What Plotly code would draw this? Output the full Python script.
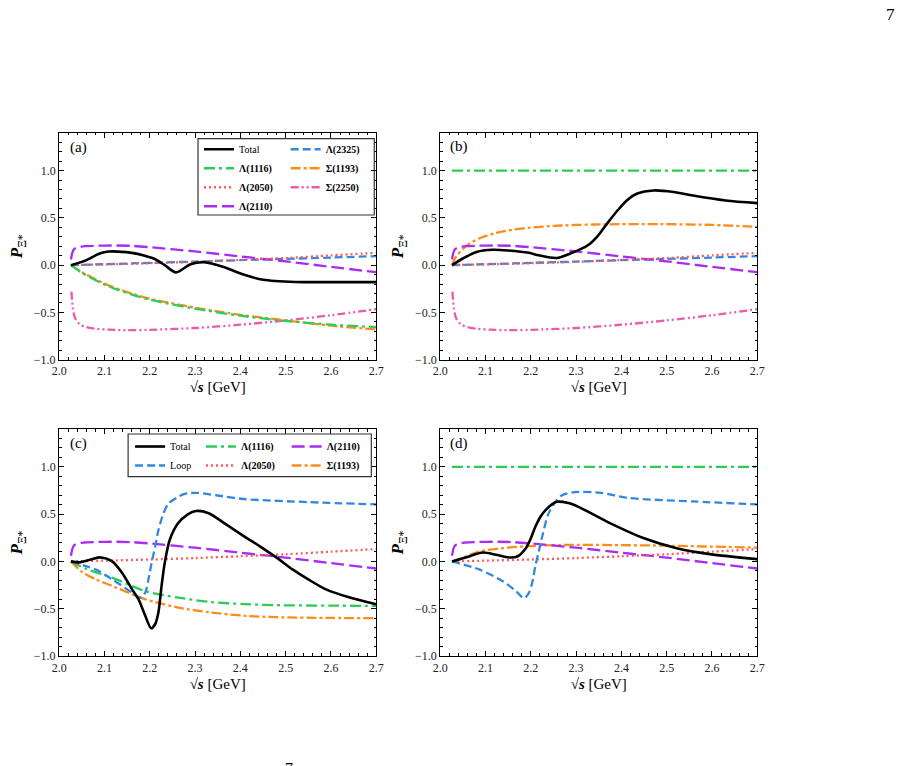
import plotly.graph_objects as go

# ---------------- data ----------------
# shared curves (same in all panels)
x_l2050 = [2.026, 2.1, 2.2, 2.3, 2.4, 2.5, 2.6, 2.7]
y_l2050 = [0.0, 0.008, 0.02, 0.035, 0.055, 0.075, 0.103, 0.13]

x_l2325 = [2.026, 2.1, 2.2, 2.3, 2.4, 2.5, 2.6, 2.7]
y_l2325 = [0.0, 0.01, 0.024, 0.038, 0.053, 0.066, 0.08, 0.095]

x_l2110 = [2.026, 2.029, 2.033, 2.04, 2.055, 2.08, 2.12, 2.16, 2.2, 2.3, 2.4, 2.45, 2.5, 2.6, 2.7]
y_l2110 = [0.06, 0.13, 0.17, 0.19, 0.2, 0.205, 0.208, 0.204, 0.19, 0.145, 0.092, 0.066, 0.04, -0.018, -0.075]

x_s2250 = [2.027, 2.03, 2.035, 2.045, 2.06, 2.08, 2.11, 2.15, 2.2, 2.3, 2.4, 2.5, 2.6, 2.7]
y_s2250 = [-0.28, -0.45, -0.56, -0.625, -0.655, -0.672, -0.683, -0.688, -0.684, -0.665, -0.63, -0.585, -0.53, -0.465]

# panel (a)
x_a_total = [2.026, 2.059, 2.088, 2.109, 2.16, 2.189, 2.211, 2.233, 2.258, 2.29, 2.32, 2.363, 2.407, 2.45, 2.522, 2.6, 2.7]
y_a_total = [0.0, 0.05, 0.12, 0.144, 0.13, 0.1, 0.065, 0.0, -0.077, 0.01, 0.03, -0.02, -0.1, -0.155, -0.178, -0.18, -0.18]
x_a_l1116 = [2.026, 2.05, 2.1, 2.15, 2.2, 2.3, 2.4, 2.5, 2.6, 2.7]
y_a_l1116 = [0.0, -0.08, -0.205, -0.295, -0.365, -0.46, -0.535, -0.59, -0.63, -0.655]
x_a_s1193 = [2.026, 2.05, 2.1, 2.15, 2.2, 2.3, 2.4, 2.5, 2.6, 2.7]
y_a_s1193 = [0.0, -0.075, -0.195, -0.285, -0.355, -0.45, -0.525, -0.585, -0.64, -0.68]

# panel (b)
x_b_total = [2.026, 2.05, 2.08, 2.116, 2.15, 2.196, 2.2175, 2.257, 2.29, 2.326, 2.348, 2.37, 2.39, 2.413, 2.435, 2.471, 2.515, 2.558, 2.63, 2.7]
y_b_total = [0.0, 0.07, 0.14, 0.163, 0.155, 0.13, 0.104, 0.076, 0.128, 0.21, 0.31, 0.45, 0.57, 0.69, 0.757, 0.79, 0.774, 0.736, 0.684, 0.656]
x_b_l1116 = [2.026, 2.7]
y_b_l1116 = [1.0, 1.0]
x_b_s1193 = [2.026, 2.035, 2.05, 2.065, 2.09, 2.123, 2.16, 2.196, 2.25, 2.34, 2.486, 2.6, 2.7]
y_b_s1193 = [0.0, 0.09, 0.17, 0.23, 0.29, 0.34, 0.375, 0.395, 0.415, 0.43, 0.434, 0.425, 0.405]

# panel (c)
x_c_total = [2.026, 2.045, 2.07, 2.092, 2.117, 2.139, 2.161, 2.175, 2.19, 2.203, 2.212, 2.219, 2.226, 2.233, 2.244, 2.262, 2.284, 2.302, 2.33, 2.371, 2.41, 2.444, 2.48, 2.516, 2.55, 2.589, 2.64, 2.7]
y_c_total = [0.0, -0.01, 0.02, 0.042, 0.0, -0.122, -0.296, -0.4, -0.575, -0.707, -0.662, -0.54, -0.261, -0.017, 0.226, 0.4, 0.498, 0.533, 0.51, 0.383, 0.26, 0.157, 0.04, -0.087, -0.19, -0.296, -0.38, -0.453]
x_c_loop = [2.026, 2.059, 2.081, 2.117, 2.161, 2.179, 2.19, 2.197, 2.204, 2.212, 2.219, 2.23, 2.241, 2.259, 2.277, 2.306, 2.35, 2.407, 2.552, 2.7]
y_c_loop = [0.0, -0.05, -0.087, -0.19, -0.33, -0.383, -0.33, -0.19, -0.017, 0.157, 0.33, 0.505, 0.61, 0.672, 0.714, 0.725, 0.697, 0.66, 0.627, 0.603]
x_c_l1116 = [2.026, 2.06, 2.118, 2.19, 2.263, 2.335, 2.41, 2.48, 2.6, 2.7]
y_c_l1116 = [0.0, -0.08, -0.174, -0.314, -0.383, -0.43, -0.452, -0.463, -0.468, -0.47]
x_c_s1193 = [2.026, 2.05, 2.081, 2.117, 2.19, 2.263, 2.335, 2.41, 2.48, 2.6, 2.7]
y_c_s1193 = [0.0, -0.11, -0.19, -0.26, -0.4, -0.488, -0.54, -0.575, -0.59, -0.598, -0.6]

# panel (d)
x_d_total = [2.026, 2.058, 2.094, 2.123, 2.152, 2.17, 2.189, 2.2, 2.21, 2.221, 2.232, 2.257, 2.283, 2.304, 2.377, 2.45, 2.522, 2.595, 2.7]
y_d_total = [0.0, 0.045, 0.094, 0.07, 0.042, 0.052, 0.14, 0.244, 0.366, 0.47, 0.54, 0.63, 0.617, 0.58, 0.4, 0.244, 0.139, 0.077, 0.024]
x_d_loop = [2.026, 2.087, 2.138, 2.167, 2.185, 2.196, 2.203, 2.21, 2.2175, 2.225, 2.239, 2.254, 2.268, 2.297, 2.355, 2.413, 2.558, 2.7]
y_d_loop = [0.0, -0.087, -0.209, -0.313, -0.39, -0.33, -0.226, -0.05, 0.105, 0.26, 0.505, 0.627, 0.697, 0.732, 0.725, 0.672, 0.634, 0.603]
x_d_l1116 = [2.026, 2.7]
y_d_l1116 = [1.0, 1.0]
x_d_s1193 = [2.026, 2.05, 2.087, 2.16, 2.268, 2.4, 2.5, 2.7]
y_d_s1193 = [0.0, 0.04, 0.105, 0.15, 0.174, 0.172, 0.166, 0.146]

x_ticks = [2.0, 2.1, 2.2, 2.3, 2.4, 2.5, 2.6, 2.7]
y_ticks = [-1.0, -0.5, 0.0, 0.5, 1.0]

# ---------------- styles ----------------
FONT = "'Liberation Serif', 'Times New Roman', 'DejaVu Serif', serif"
W, H = 911, 766
C_TOTAL = "black"
C_L1116 = "#2bcc5a"
C_L2050 = "#ff5a5a"
C_L2110 = "#a92cf5"
C_L2325 = "#3388dd"
C_S1193 = "#ff8c1a"
C_S2250 = "#ee5aa8"

S = {
    "total": dict(color=C_TOTAL, width=2.6, dash="solid"),
    "l1116": dict(color=C_L1116, width=2.3, dash="11px,4px,3px,4px"),
    "l2050": dict(color=C_L2050, width=2.3, dash="2px,3px"),
    "l2110": dict(color=C_L2110, width=2.3, dash="13px,5px"),
    "l2325": dict(color=C_L2325, width=2.3, dash="8px,4px"),
    "loop": dict(color=C_L2325, width=2.3, dash="8px,4px"),
    "s1193": dict(color=C_S1193, width=2.3, dash="10px,3px,3px,3px"),
    "s2250": dict(color=C_S2250, width=2.3, dash="8px,3px,2px,3px,2px,3px"),
}

fig = go.Figure()


def add(x, y, style, name, xa, ya, legend=None):
    fig.add_trace(go.Scatter(
        x=x, y=y, mode="lines", name=name,
        line=dict(shape="spline", smoothing=0.8, **S[style]),
        xaxis=xa, yaxis=ya,
        showlegend=legend is not None,
        legend=legend if legend else "legend",
    ))


L_TOT = "Total"
L_LOOP = "Loop"
L1116 = "<b>Λ(1116)</b>"
L2050 = "<b>Λ(2050)</b>"
L2110 = "<b>Λ(2110)</b>"
L2325 = "<b>Λ(2325)</b>"
S1193 = "<b>Σ(1193)</b>"
S2250 = "<b>Σ(2250)</b>"

# panel (a)
add(x_s2250, y_s2250, "s2250", S2250, "x", "y", "legend2")
add(x_a_s1193, y_a_s1193, "s1193", S1193, "x", "y", "legend2")
add(x_l2325, y_l2325, "l2325", L2325, "x", "y", "legend2")
add(x_l2110, y_l2110, "l2110", L2110, "x", "y", "legend")
add(x_l2050, y_l2050, "l2050", L2050, "x", "y", "legend")
add(x_a_l1116, y_a_l1116, "l1116", L1116, "x", "y", "legend")
add(x_a_total, y_a_total, "total", L_TOT, "x", "y", "legend")

# panel (b)
add(x_s2250, y_s2250, "s2250", S2250, "x2", "y2")
add(x_b_s1193, y_b_s1193, "s1193", S1193, "x2", "y2")
add(x_l2325, y_l2325, "l2325", L2325, "x2", "y2")
add(x_l2110, y_l2110, "l2110", L2110, "x2", "y2")
add(x_l2050, y_l2050, "l2050", L2050, "x2", "y2")
add(x_b_l1116, y_b_l1116, "l1116", L1116, "x2", "y2")
add(x_b_total, y_b_total, "total", L_TOT, "x2", "y2")

# panel (c)
add(x_c_s1193, y_c_s1193, "s1193", S1193, "x3", "y3", "legend5")
add(x_l2110, y_l2110, "l2110", L2110, "x3", "y3", "legend5")
add(x_l2050, y_l2050, "l2050", L2050, "x3", "y3", "legend4")
add(x_c_l1116, y_c_l1116, "l1116", L1116, "x3", "y3", "legend4")
add(x_c_loop, y_c_loop, "loop", L_LOOP, "x3", "y3", "legend3")
add(x_c_total, y_c_total, "total", L_TOT, "x3", "y3", "legend3")

# panel (d)
add(x_d_s1193, y_d_s1193, "s1193", S1193, "x4", "y4")
add(x_l2110, y_l2110, "l2110", L2110, "x4", "y4")
add(x_l2050, y_l2050, "l2050", L2050, "x4", "y4")
add(x_d_l1116, y_d_l1116, "l1116", L1116, "x4", "y4")
add(x_d_loop, y_d_loop, "loop", L_LOOP, "x4", "y4")
add(x_d_total, y_d_total, "total", L_TOT, "x4", "y4")


def px(v):
    return v / W


def py(v):
    return 1 - v / H


XD_L = [px(53), px(375)]
XD_R = [px(440), px(762)]
YD_T = [py(363), py(134)]
YD_B = [py(662), py(433)]


def xax(domain, anchor):
    return dict(
        domain=domain, anchor=anchor, range=[2.0, 2.7],
        tickvals=x_ticks, tickformat=".1f",
        ticks="inside", ticklen=5, tickwidth=1, tickcolor="black",
        showline=True, linecolor="black", linewidth=1.3, mirror="allticks",
        showgrid=False, zeroline=False,
        minor=dict(dtick=0.02, tick0=2.0, ticks="inside", ticklen=2.5, tickwidth=0.8,
                   tickcolor="black", showgrid=False),
        tickfont=dict(family=FONT, size=12, color="#222"),
        title=dict(text="<b>√<i>s</i></b> [GeV]", font=dict(family=FONT, size=15, color="black"),
                   standoff=4),
    )


def yax(domain, anchor):
    return dict(
        domain=domain, anchor=anchor, range=[-1.0, 1.4],
        tickvals=y_ticks, tickformat=".1f",
        ticks="inside", ticklen=5, tickwidth=1, tickcolor="black",
        showline=True, linecolor="black", linewidth=1.3, mirror="allticks",
        showgrid=False, zeroline=False,
        minor=dict(dtick=0.1, tick0=-1.0, ticks="inside", ticklen=2.5, tickwidth=0.8,
                   tickcolor="black", showgrid=False),
        tickfont=dict(family=FONT, size=12, color="#222"),
        title=dict(text="<b><i>P</i></b><sub>Ξ*</sub>", font=dict(family=FONT, size=17, color="black"),
                   standoff=6),
    )


def leg(x, ytop):
    return dict(
        x=px(x), y=py(ytop), xanchor="left", yanchor="top",
        bgcolor="rgba(0,0,0,0)", borderwidth=0, tracegroupgap=0,
        font=dict(family=FONT, size=10, color="black"), itemwidth=30,
        traceorder="reversed",
    )


fig.update_layout(
    width=W, height=H,
    margin=dict(l=0, r=0, t=0, b=0),
    paper_bgcolor="white", plot_bgcolor="white",
    font=dict(family=FONT, color="black"),
    xaxis=xax(XD_L, "y"), yaxis=yax(YD_T, "x"),
    xaxis2=xax(XD_R, "y2"), yaxis2=yax(YD_T, "x2"),
    xaxis3=xax(XD_L, "y3"), yaxis3=yax(YD_B, "x3"),
    xaxis4=xax(XD_R, "y4"), yaxis4=yax(YD_B, "x4"),
    legend=leg(195, 136),
    legend2=leg(283, 136),
    legend3=leg(125, 436),
    legend4=leg(197, 436),
    legend5=leg(284, 436),
    shapes=[
        dict(type="rect", xref="paper", yref="paper",
             x0=px(194), x1=px(373), y0=py(217), y1=py(140),
             line=dict(color="#333", width=1.2), fillcolor="rgba(0,0,0,0)"),
        dict(type="rect", xref="paper", yref="paper",
             x0=px(123), x1=px(370), y0=py(481), y1=py(438),
             line=dict(color="#333", width=1.2), fillcolor="rgba(0,0,0,0)"),
    ],
    annotations=[
        dict(text="(a)", x=px(62), y=py(149), xref="paper", yref="paper",
             xanchor="left", yanchor="middle", showarrow=False,
             font=dict(family=FONT, size=15, color="black")),
        dict(text="(b)", x=px(448), y=py(148), xref="paper", yref="paper",
             xanchor="left", yanchor="middle", showarrow=False,
             font=dict(family=FONT, size=15, color="black")),
        dict(text="(c)", x=px(62), y=py(448), xref="paper", yref="paper",
             xanchor="left", yanchor="middle", showarrow=False,
             font=dict(family=FONT, size=15, color="black")),
        dict(text="(d)", x=px(448), y=py(448), xref="paper", yref="paper",
             xanchor="left", yanchor="middle", showarrow=False,
             font=dict(family=FONT, size=15, color="black")),
        dict(text="7", x=px(897), y=py(15), xref="paper", yref="paper",
             xanchor="center", yanchor="middle", showarrow=False,
             font=dict(family=FONT, size=17, color="black")),
        dict(text="7", x=px(286), y=py(765), xref="paper", yref="paper",
             xanchor="center", yanchor="top", showarrow=False,
             font=dict(family=FONT, size=16, color="black")),
    ],
)

fig.write_html("out.html")
